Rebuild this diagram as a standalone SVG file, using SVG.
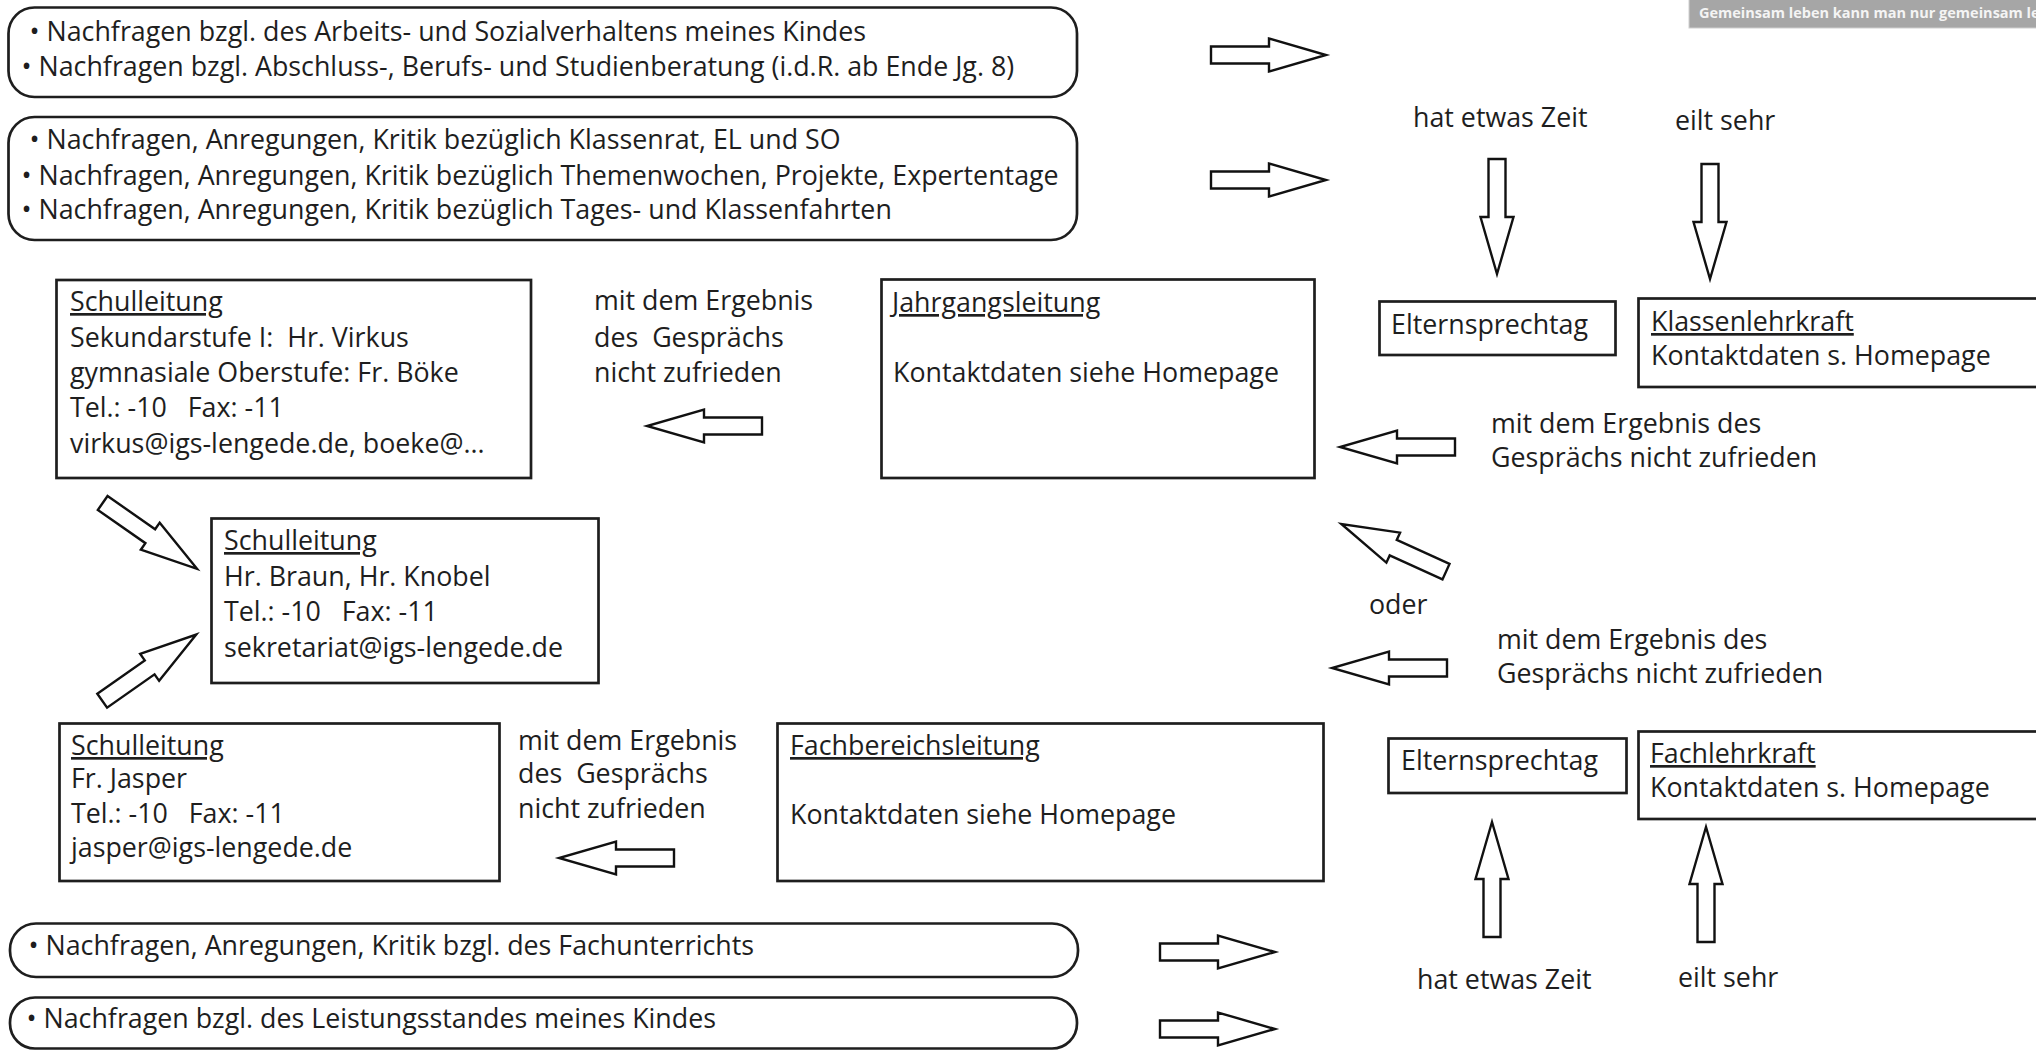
<svg xmlns="http://www.w3.org/2000/svg" xmlns:xlink="http://www.w3.org/1999/xlink" width="2036" height="1050" viewBox="0 0 2036 1050">
<defs>
<style>
.box{fill:#fff;stroke:#1e1e1e;stroke-width:2.7}
.arr{fill:#fff;stroke:#111;stroke-width:2.4;stroke-linejoin:miter}
text{font-family:"Open Sans","Noto Sans","Liberation Sans",sans-serif;font-size:26.8px;fill:#1e1e1e;white-space:pre}
.u{text-decoration:underline}
.banner{font-size:14.5px;font-weight:bold;fill:#f4f4f4}
</style>
<path id="ba" d="M0,-8.5 H58 V-16.5 L115,0 L58,16.5 V8.5 H0 Z"/>
</defs>
<rect width="2036" height="1050" fill="#fff"/>

<g id="banner">
<rect x="1689" y="-2" width="360" height="30" fill="#a6a6a6" stroke="#cfcfcf" stroke-width="1"/>
<text class="banner" x="1699" y="18">Gemeinsam leben kann man nur gemeinsam lernen</text>
</g>

<g id="pill-arbeitsverhalten">
<rect class="box" x="8.5" y="7.5" width="1068.5" height="89.5" rx="26" ry="26"/>
<text x="29.5" y="41">• Nachfragen bzgl. des Arbeits- und Sozialverhaltens meines Kindes</text>
<text x="21.5" y="76">• Nachfragen bzgl. Abschluss-, Berufs- und Studienberatung (i.d.R. ab Ende Jg. 8)</text>
</g>

<g id="pill-klassenrat">
<rect class="box" x="8.5" y="117" width="1068.5" height="123" rx="26" ry="26"/>
<text x="29.5" y="149">• Nachfragen, Anregungen, Kritik bezüglich Klassenrat, EL und SO</text>
<text x="21.5" y="184.5">• Nachfragen, Anregungen, Kritik bezüglich Themenwochen, Projekte, Expertentage</text>
<text x="21.5" y="218.5">• Nachfragen, Anregungen, Kritik bezüglich Tages- und Klassenfahrten</text>
</g>

<g id="schulleitung-sek">
<rect class="box" x="56.5" y="280" width="474.5" height="198"/>
<text class="u" x="70" y="311">Schulleitung</text>
<text x="70" y="347">Sekundarstufe I:  Hr. Virkus</text>
<text x="70" y="382">gymnasiale Oberstufe: Fr. Böke</text>
<text x="70" y="417">Tel.: -10   Fax: -11</text>
<text x="70" y="453">virkus@igs-lengede.de, boeke@...</text>
</g>

<g id="label-top-left">
<text x="594" y="310">mit dem Ergebnis</text>
<text x="594" y="347">des  Gesprächs</text>
<text x="594" y="382">nicht zufrieden</text>
</g>

<g id="jahrgangsleitung">
<rect class="box" x="881.5" y="279.5" width="433" height="198.5"/>
<text class="u" x="892" y="312">Jahrgangsleitung</text>
<text x="893" y="382">Kontaktdaten siehe Homepage</text>
</g>

<g id="elternsprechtag-top">
<rect class="box" x="1379.5" y="301.5" width="236" height="53.5"/>
<text x="1391" y="334">Elternsprechtag</text>
</g>

<g id="klassenlehrkraft">
<rect class="box" x="1638.5" y="298.5" width="420" height="88.5"/>
<text class="u" x="1651" y="331">Klassenlehrkraft</text>
<text x="1651" y="365">Kontaktdaten s. Homepage</text>
</g>

<g id="labels-right">
<text x="1413" y="127">hat etwas Zeit</text>
<text x="1675" y="130">eilt sehr</text>
<text x="1491" y="433">mit dem Ergebnis des</text>
<text x="1491" y="467">Gesprächs nicht zufrieden</text>
<text x="1369" y="614">oder</text>
<text x="1497" y="649">mit dem Ergebnis des</text>
<text x="1497" y="683">Gesprächs nicht zufrieden</text>
<text x="1417" y="989">hat etwas Zeit</text>
<text x="1678" y="987">eilt sehr</text>
</g>

<g id="schulleitung-main">
<rect class="box" x="211.5" y="518.5" width="387" height="164.5"/>
<text class="u" x="224" y="550">Schulleitung</text>
<text x="224" y="586">Hr. Braun, Hr. Knobel</text>
<text x="224" y="621">Tel.: -10   Fax: -11</text>
<text x="224" y="657">sekretariat@igs-lengede.de</text>
</g>

<g id="schulleitung-jasper">
<rect class="box" x="59.5" y="723.5" width="440" height="157.5"/>
<text class="u" x="71" y="755">Schulleitung</text>
<text x="71" y="788">Fr. Jasper</text>
<text x="71" y="823">Tel.: -10   Fax: -11</text>
<text x="71" y="857">jasper@igs-lengede.de</text>
</g>

<g id="label-bottom-left">
<text x="518" y="750">mit dem Ergebnis</text>
<text x="518" y="783">des  Gesprächs</text>
<text x="518" y="818">nicht zufrieden</text>
</g>

<g id="fachbereichsleitung">
<rect class="box" x="777.5" y="723.5" width="546" height="157.5"/>
<text class="u" x="790" y="755">Fachbereichsleitung</text>
<text x="790" y="824">Kontaktdaten siehe Homepage</text>
</g>

<g id="elternsprechtag-bottom">
<rect class="box" x="1388.5" y="738.5" width="238" height="54.5"/>
<text x="1401" y="770">Elternsprechtag</text>
</g>

<g id="fachlehrkraft">
<rect class="box" x="1638.5" y="731.5" width="420" height="87.5"/>
<text class="u" x="1650" y="763">Fachlehrkraft</text>
<text x="1650" y="797">Kontaktdaten s. Homepage</text>
</g>

<g id="pill-fachunterricht">
<rect class="box" x="10" y="923.5" width="1068" height="53.5" rx="26" ry="26"/>
<text x="28.5" y="955">• Nachfragen, Anregungen, Kritik bzgl. des Fachunterrichts</text>
</g>

<g id="pill-leistungsstand">
<rect class="box" x="10" y="997.5" width="1067" height="51" rx="25" ry="25"/>
<text x="26.5" y="1028">• Nachfragen bzgl. des Leistungsstandes meines Kindes</text>
</g>

<g id="connectors">
<use xlink:href="#ba" class="arr" transform="translate(1211,55)"/>
<use xlink:href="#ba" class="arr" transform="translate(1211,180)"/>
<use xlink:href="#ba" class="arr" transform="translate(1497,159) rotate(90)"/>
<use xlink:href="#ba" class="arr" transform="translate(1710,164) rotate(90)"/>
<use xlink:href="#ba" class="arr" transform="translate(762,426) rotate(180)"/>
<use xlink:href="#ba" class="arr" transform="translate(1455,447) rotate(180)"/>
<use xlink:href="#ba" class="arr" transform="translate(1446,571.7) rotate(204.5)"/>
<use xlink:href="#ba" class="arr" transform="translate(1447,668) rotate(180)"/>
<use xlink:href="#ba" class="arr" transform="translate(102.7,503) rotate(34.9)"/>
<use xlink:href="#ba" class="arr" transform="translate(102.2,700.7) rotate(-35.1)"/>
<use xlink:href="#ba" class="arr" transform="translate(674,858) rotate(180)"/>
<use xlink:href="#ba" class="arr" transform="translate(1160,952)"/>
<use xlink:href="#ba" class="arr" transform="translate(1160,1029)"/>
<use xlink:href="#ba" class="arr" transform="translate(1492,937) rotate(-90)"/>
<use xlink:href="#ba" class="arr" transform="translate(1706,942) rotate(-90)"/>
</g>
</svg>
